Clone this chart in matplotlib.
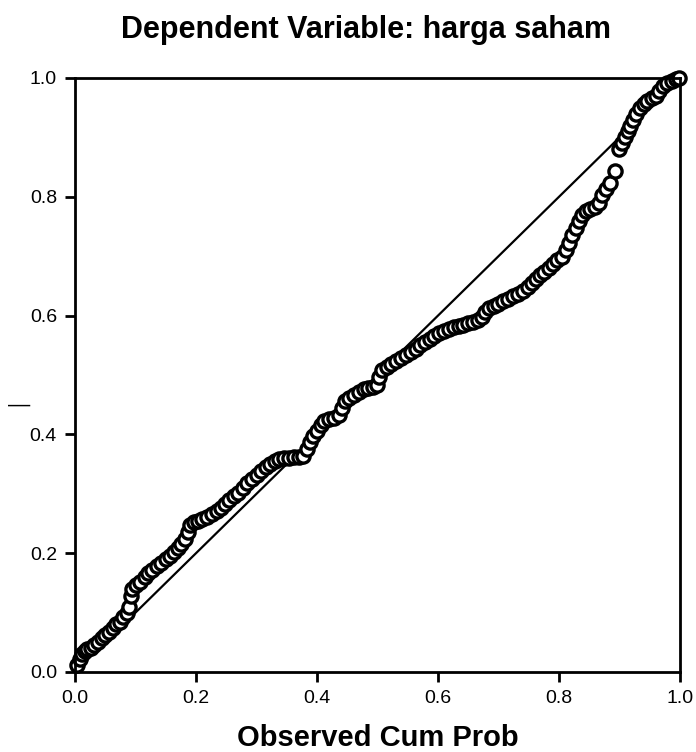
import matplotlib
matplotlib.use("Agg")
import matplotlib.pyplot as plt

# P-P plot values (observed cum prob, expected cum prob)
observed = [
    0.003, 0.008, 0.012, 0.016, 0.020, 0.026, 0.032, 0.038, 0.044, 0.050,
    0.056, 0.062, 0.068, 0.074, 0.080, 0.086, 0.090,
    0.092, 0.095, 0.101, 0.108, 0.115, 0.121, 0.128, 0.135, 0.142, 0.150,
    0.157, 0.164, 0.170, 0.176, 0.182, 0.186, 0.190,
    0.196, 0.203, 0.210, 0.218, 0.226, 0.234, 0.241, 0.248, 0.255, 0.262,
    0.270, 0.278, 0.285, 0.292, 0.300,
    0.307, 0.315, 0.322, 0.330, 0.338, 0.346, 0.354, 0.362, 0.370, 0.377,
    0.383, 0.388, 0.394, 0.400, 0.406, 0.412, 0.420, 0.428, 0.436, 0.441, 0.446,
    0.453, 0.461, 0.469, 0.477, 0.485, 0.493, 0.499, 0.503, 0.508, 0.515,
    0.523, 0.531, 0.539, 0.547, 0.555, 0.563, 0.571, 0.579,
    0.587, 0.594, 0.602, 0.610, 0.618, 0.626, 0.634, 0.642, 0.650, 0.658,
    0.666, 0.672, 0.678, 0.685,
    0.692, 0.700, 0.708, 0.716, 0.724, 0.732, 0.740, 0.748, 0.755, 0.762,
    0.769, 0.776, 0.783, 0.790, 0.797, 0.805, 0.811, 0.816, 0.822, 0.828, 0.833,
    0.838, 0.845, 0.852, 0.860, 0.866, 0.871, 0.877, 0.884, 0.892,
    0.899, 0.904, 0.909, 0.914, 0.918, 0.922, 0.928, 0.934, 0.940, 0.946,
    0.953, 0.960, 0.966, 0.972, 0.979, 0.986, 0.993, 0.998,
]
expected = [
    0.012, 0.022, 0.030, 0.036, 0.038, 0.041, 0.046, 0.051, 0.057, 0.063,
    0.068, 0.074, 0.080, 0.085, 0.092, 0.100, 0.110,
    0.128, 0.140, 0.146, 0.152, 0.160, 0.167, 0.172, 0.178, 0.184, 0.190,
    0.196, 0.202, 0.208, 0.215, 0.224, 0.236, 0.248,
    0.252, 0.255, 0.258, 0.261, 0.266, 0.271, 0.276, 0.282, 0.290, 0.296,
    0.302, 0.310, 0.318, 0.325, 0.331,
    0.338, 0.345, 0.351, 0.355, 0.358, 0.360, 0.361, 0.362, 0.362, 0.363,
    0.375, 0.388, 0.398, 0.406, 0.415, 0.423, 0.426, 0.428, 0.432, 0.445, 0.457,
    0.462, 0.467, 0.472, 0.476, 0.478, 0.480, 0.484, 0.497, 0.508, 0.514,
    0.518, 0.523, 0.528, 0.533, 0.538, 0.544, 0.550, 0.556,
    0.560, 0.565, 0.570, 0.574, 0.577, 0.580, 0.583, 0.585, 0.587, 0.589,
    0.592, 0.598, 0.606, 0.612,
    0.616, 0.620, 0.624, 0.628, 0.633, 0.637, 0.642, 0.648, 0.655, 0.662,
    0.668, 0.674, 0.680, 0.687, 0.694, 0.699, 0.710, 0.722, 0.735, 0.748, 0.760,
    0.770, 0.776, 0.779, 0.782, 0.790, 0.803, 0.813, 0.824, 0.843,
    0.880, 0.890, 0.900, 0.910, 0.920, 0.930, 0.940, 0.949, 0.956, 0.962,
    0.966, 0.969, 0.978, 0.986, 0.991, 0.995, 0.998, 1.000,
]
ref_line = [0.0, 1.0]
ticks = [0.0, 0.2, 0.4, 0.6, 0.8, 1.0]
tick_labels = ["0.0", "0.2", "0.4", "0.6", "0.8", "1.0"]

plt.rcParams['font.family'] = ['Liberation Sans', 'DejaVu Sans']

fig = plt.figure(figsize=(6.96, 7.52), dpi=100)
ax = fig.add_axes([75/696, 80/752, 605/696, 594/752])

ax.plot(ref_line, ref_line, color='black', lw=1.6, zorder=1)
ax.plot(observed, expected, ls='none', marker='o', ms=9.5,
        mfc='white', mec='black', mew=2.4, zorder=2, clip_on=False)

ax.set_xlim(0, 1)
ax.set_ylim(0, 1)
ax.set_xticks(ticks)
ax.set_xticklabels(tick_labels)
ax.set_yticks(ticks)
ax.set_yticklabels(tick_labels)
ax.tick_params(direction='out', length=7, width=2, labelsize=14, pad=6)
for s in ax.spines.values():
    s.set_linewidth(2)

ax.set_xlabel("Observed Cum Prob", fontsize=21, fontweight='bold', labelpad=12)
fig.text(366/696, 1 - 30/752, "Dependent Variable: harga saham",
         ha='center', va='center', fontsize=22, fontweight='bold')
fig.text(19/696, 1 - 405/752, "\u2014", ha='center', va='center', fontsize=16)

fig.savefig("out.png", dpi=100)
